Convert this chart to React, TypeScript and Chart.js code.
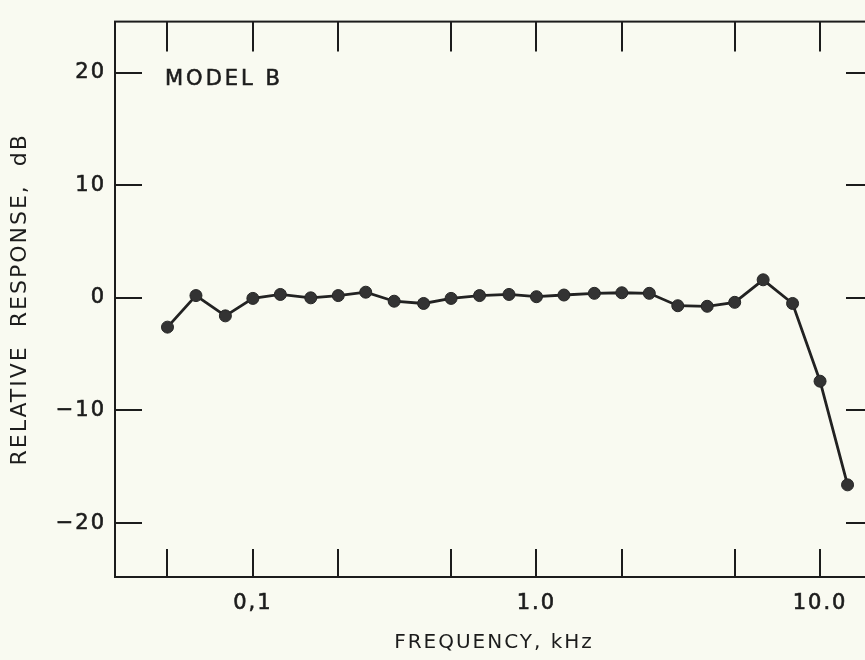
import React, { useEffect, useRef } from "react";
import { Chart, registerables } from "chart.js";

Chart.register(...registerables);

// Frequencies (kHz), one-third-octave centres
const freqs = [0.05, 0.063, 0.08, 0.1, 0.125, 0.16, 0.2, 0.25, 0.315, 0.4, 0.5, 0.63, 0.8, 1.0, 1.25, 1.6, 2.0, 2.5, 3.15, 4.0, 5.0, 6.3, 8.0, 10.0, 12.5];
// Relative response, dB
const response = [-2.6, 0.2, -1.6, -0.05, 0.3, 0.0, 0.2, 0.5, -0.3, -0.5, -0.05, 0.2, 0.3, 0.1, 0.25, 0.4, 0.45, 0.4, -0.7, -0.75, -0.4, 1.6, -0.5, -7.4, -16.6];

const xTickValues = [0.05, 0.1, 0.2, 0.5, 1, 2, 5, 10];
const xLabelValues = [0.1, 1, 10];
const xLabelTexts = ["0,1", "1.0", "10.0"];
const yTickValues = [-20, -10, 0, 10, 20];
const yLabelTexts = ["\u221220", "\u221210", "0", "10", "20"];

const FONT = "'DejaVu Sans', sans-serif";
const INK = "#1c1c1c";
const BG = "#f9faf1";

const framePlugin = {
  id: "frame",
  beforeDraw(chart: any) {
    const ctx = chart.ctx;
    ctx.save();
    ctx.fillStyle = BG;
    ctx.fillRect(0, 0, chart.width, chart.height);
    ctx.restore();
    (ctx as any).letterSpacing = "2px";
  },
  afterDatasetsDraw(chart: any) {
    const ctx = chart.ctx;
    const { left, right, top, bottom } = chart.chartArea;
    const xs = chart.scales.x;
    const ys = chart.scales.y;
    ctx.save();
    ctx.strokeStyle = INK;
    ctx.lineWidth = 2;
    ctx.strokeRect(left, top, right - left, bottom - top);
    ctx.beginPath();
    for (const v of xTickValues) {
      const px = Math.round(xs.getPixelForValue(v));
      ctx.moveTo(px, top);
      ctx.lineTo(px, top + 30);
      ctx.moveTo(px, bottom);
      ctx.lineTo(px, bottom - 28);
    }
    for (const v of yTickValues) {
      const py = Math.round(ys.getPixelForValue(v));
      ctx.moveTo(left, py);
      ctx.lineTo(left + 27, py);
      ctx.moveTo(right, py);
      ctx.lineTo(right - 27, py);
    }
    ctx.stroke();
    ctx.fillStyle = INK;
    ctx.strokeStyle = INK;
    ctx.lineWidth = 0.6;
    ctx.font = `21px ${FONT}`;
    ctx.textBaseline = "middle";
    ctx.textAlign = "left";
    (ctx as any).letterSpacing = "3px";
    const ty = ys.getPixelForValue(19.4);
    ctx.fillText("MODEL B", left + 50, ty);
    ctx.strokeText("MODEL B", left + 50, ty);
    ctx.restore();
  },
  afterDraw(chart: any) {
    (chart.ctx as any).letterSpacing = "0px";
  },
};

export default function App() {
  const ref = useRef<HTMLCanvasElement>(null);
  useEffect(() => {
    const canvas = ref.current!;
    document.body.style.margin = "0";
    const chart = new Chart(canvas, {
      type: "line",
      data: {
        datasets: [
          {
            data: freqs.map((f, i) => ({ x: f, y: response[i] })),
            borderColor: "#222222",
            borderWidth: 2.8,
            backgroundColor: "#333333",
            pointBackgroundColor: "#333333",
            pointBorderColor: "#262626",
            pointBorderWidth: 1,
            pointRadius: 6,
            tension: 0,
          },
        ],
      },
      options: {
        responsive: false,
        animation: false,
        devicePixelRatio: 1,
        layout: { padding: { top: 10, right: 6, left: 0, bottom: 0 } },
        plugins: { legend: { display: false }, tooltip: { enabled: false } },
        scales: {
          x: {
            type: "logarithmic",
            min: 0.03265,
            max: 15.37,
            grid: { display: false, drawTicks: false },
            border: { display: false },
            afterBuildTicks: (s: any) => {
              s.ticks = xTickValues.map((v) => ({ value: v }));
            },
            afterFit: (s: any) => {
              s.height = 83;
            },
            ticks: {
              autoSkip: false,
              maxRotation: 0,
              padding: 14,
              color: INK,
              textStrokeColor: INK,
              textStrokeWidth: 0.6,
              font: { family: FONT, size: 21 },
              callback: (v: any) => {
                const i = xLabelValues.findIndex((x) => Math.abs(x - v) < 1e-9);
                return i >= 0 ? xLabelTexts[i] : "";
              },
            },
            title: {
              display: true,
              text: "FREQUENCY, kHz",
              color: INK,
              font: { family: FONT, size: 20 },
              padding: { top: 0, bottom: 5 },
            },
          },
          y: {
            type: "linear",
            min: -24.78,
            max: 24.52,
            grid: { display: false, drawTicks: false },
            border: { display: false },
            afterBuildTicks: (s: any) => {
              s.ticks = yTickValues.map((v) => ({ value: v }));
            },
            afterFit: (s: any) => {
              s.width = 115;
            },
            ticks: {
              padding: 9,
              color: INK,
              textStrokeColor: INK,
              textStrokeWidth: 0.6,
              font: { family: FONT, size: 21 },
              callback: (v: any) => {
                const i = yTickValues.indexOf(Number(v));
                return i >= 0 ? yLabelTexts[i] : "";
              },
            },
            title: {
              display: true,
              text: "RELATIVE  RESPONSE,  dB",
              color: INK,
              font: { family: FONT, size: 22 },
              padding: { top: 7, bottom: 0 },
            },
          },
        },
      },
      plugins: [framePlugin],
    } as any);
    return () => chart.destroy();
  }, []);
  return (
    <div style={{ position: "absolute", left: 0, top: 0, width: 865, height: 660, overflow: "hidden", background: BG }}>
      <canvas ref={ref} width={880} height={660} style={{ display: "block" }} />
    </div>
  );
}
